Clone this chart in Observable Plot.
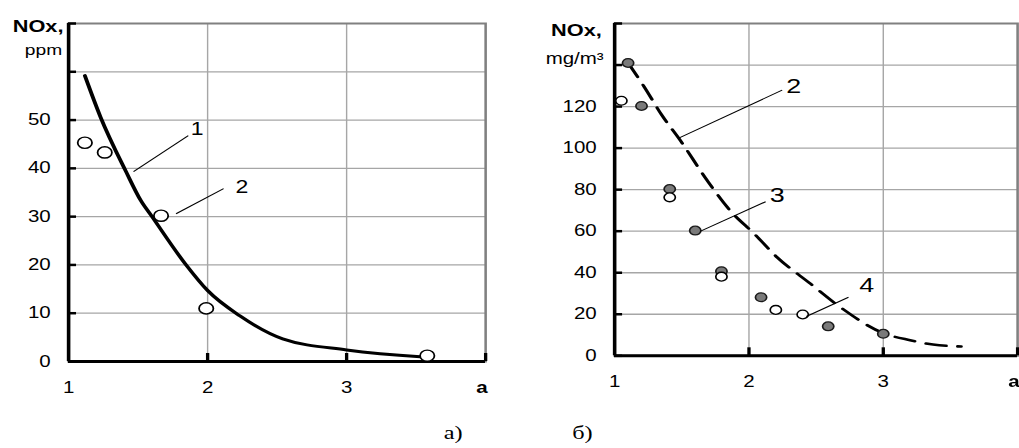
<!DOCTYPE html>
<html><head><meta charset="utf-8">
<script src="https://cdn.jsdelivr.net/npm/d3@7"></script>
<script src="https://cdn.jsdelivr.net/npm/@observablehq/plot@0.6"></script>
<style>
html,body{margin:0;padding:0;background:#fff;overflow:hidden;}
#wrap{position:absolute;left:0;top:0;width:796px;height:448px;transform:scaleX(1.28);transform-origin:0 0;}
#left{position:absolute;left:0;top:0;}
#right{position:absolute;left:390px;top:0;}
.cap{position:absolute;font-family:"Liberation Serif","Times New Roman",serif;font-size:19px;color:#000;transform:translate(-50%,-50%);white-space:nowrap;}
</style></head><body>
<div id="wrap"><div id="left"></div><div id="right"></div>
<div class="cap" id="capA" style="left:354px;top:433px"></div>
<div class="cap" id="capB" style="left:455px;top:433px"></div></div>
<script>
// ---------- Panel a) data ----------
const aCurveX = [1.117, 1.23, 1.41, 1.52, 1.60, 1.84, 2.0, 2.23, 2.54, 3.0, 3.53, 3.59];
const aCurveY = [59.2, 50.6, 39.5, 33.3, 30.0, 20.2, 14.7, 9.5, 4.7, 2.4, 1.0, 0.9];
const aPointX = [1.117, 1.26, 1.665, 1.99, 3.58];
const aPointY = [45.3, 43.3, 30.2, 11.0, 1.2];
const aNoteLabels = ["1", "2"];
const aNoteFromX = [1.467, 1.773];
const aNoteFromY = [39.3, 30.6];
const aNoteToX = [1.861, 2.115];
const aNoteToY = [46.8, 35.8];
const aNoteTextX = [1.924, 2.247];
const aNoteTextY = [48.0, 36.1];
const aYTicks = [0, 10, 20, 30, 40, 50, 60, 70];
const aYLabels = [0, 10, 20, 30, 40, 50];
const aGridY = [10, 20, 30, 40, 50, 60];
const aYTitle = ["NOx,", "ppm"];

// ---------- Panel б) data ----------
const bCurveX = [1.1, 1.22, 1.35, 1.49, 1.69, 1.86, 2.04, 2.21, 2.46, 2.68, 3.0, 3.2, 3.37, 3.58];
const bCurveY = [141, 129.5, 116, 103.6, 84.3, 69.9, 58.7, 47.4, 34.6, 23.4, 10.9, 7.5, 5.4, 4.5];
const bFilledX = [1.10, 1.20, 1.41, 1.60, 1.795, 2.09, 2.59, 3.0];
const bFilledY = [141, 120.3, 80.3, 60.3, 40.7, 28.2, 14.2, 10.6];
const bOpenX = [1.05, 1.41, 1.795, 2.20, 2.40];
const bOpenY = [122.8, 76.3, 38.1, 22.1, 19.9];
const bNoteLabels = ["2", "3", "4"];
const bNoteFromX = [1.481, 1.636, 2.427];
const bNoteFromY = [104.9, 59.9, 18.9];
const bNoteToX = [2.247, 2.124, 2.741];
const bNoteToY = [127.9, 74.2, 28.2];
const bNoteTextX = [2.333, 2.21, 2.877];
const bNoteTextY = [130.0, 77.4, 33.8];
const bYTicks = [0, 20, 40, 60, 80, 100, 120, 140, 160];
const bYLabels = [0, 20, 40, 60, 80, 100, 120];
const bGridY = [20, 40, 60, 80, 100, 120, 140];
const bYTitle = ["NOx,", "mg/m³"];

// ---------- shared axis data ----------
const xTicks = [2, 3, 4];
const xGrid = [2, 3];
const xLabels = [1, 2, 3];
const xEndLabel = ["a"];
const xEndValue = [4];
const captions = ["а)", "б)"];

const FONT = '"Liberation Sans", Arial, Helvetica, sans-serif';
const zip2 = (xs, ys) => xs.map((x, i) => ({x, y: ys[i]}));
const notes = (lab, fx, fy, tx, ty, lx, ly) => lab.map((t, i) => ({t, x1: fx[i], y1: fy[i], x2: tx[i], y2: ty[i], lx: lx[i], ly: ly[i]}));

function panel(o) {
  const fw = o.width - o.ml - o.mr;
  const fh = o.height - o.mt - o.mb;
  return Plot.plot({
    width: o.width, height: o.height,
    marginLeft: o.ml, marginRight: o.mr, marginTop: o.mt, marginBottom: o.mb,
    x: {domain: [1, 4], axis: null},
    y: {domain: o.ydomain, axis: null},
    style: {fontFamily: FONT, fontSize: "16px", background: "white", overflow: "visible", color: "black"},
    marks: [
      Plot.gridX(xGrid, {stroke: "#a6a6a6", strokeOpacity: 1, strokeWidth: 1.1}),
      Plot.gridY(o.gridY, {stroke: "#a6a6a6", strokeOpacity: 1, strokeWidth: 1.3}),
      Plot.frame({stroke: "#808080", strokeWidth: 2}),
      Plot.ruleY(o.yTicks, {insetRight: fw - 6.3, stroke: "black", strokeWidth: 2.5}),
      Plot.ruleX(xTicks, {insetTop: fh - 8, stroke: "black", strokeWidth: 2.6}),
      Plot.ruleX([1], {stroke: "black", strokeWidth: 2.8}),
      Plot.ruleY([0], {stroke: "black", strokeWidth: 3}),
      ...o.marks,
      Plot.link(o.notes, {x1: "x1", y1: "y1", x2: "x2", y2: "y2", stroke: "black", strokeWidth: 1}),
      Plot.text(o.notes, {x: "lx", y: "ly", text: "t", fontSize: o.noteSize, fill: "black"}),
      Plot.text(o.yLabels, {y: d => d, frameAnchor: "left", dx: -14, textAnchor: "end", fill: "black", fontSize: 16}),
      Plot.text(xLabels, {x: d => d, frameAnchor: "bottom", dy: 31, text: d => String(d), fill: "black", fontSize: 16}),
      Plot.text(xEndLabel, {x: (d, i) => xEndValue[i], frameAnchor: "bottom", dy: 31, textAnchor: "end", dx: 1.5, fontWeight: "bold", fill: "black", fontSize: 16}),
      Plot.text([o.title[0]], {frameAnchor: "top-left", dx: o.t1dx, dy: o.t1dy, textAnchor: "end", fontWeight: "bold", fontSize: 17, fill: "black"}),
      Plot.text([o.title[1]], {frameAnchor: "top-left", dx: o.t2dx, dy: o.t2dy, textAnchor: "end", fontSize: o.t2size, fill: "black"})
    ]
  });
}

const left = panel({
  width: 390, height: 448, ml: 53.1, mr: 11.1, mt: 23, mb: 87,
  ydomain: [0, 70], gridY: aGridY, yTicks: aYTicks, yLabels: aYLabels,
  title: aYTitle, t1dx: -4, t1dy: -4, t2dx: -5, t2dy: 21, t2size: 15,
  noteSize: 18,
  notes: notes(aNoteLabels, aNoteFromX, aNoteFromY, aNoteToX, aNoteToY, aNoteTextX, aNoteTextY),
  marks: [
    Plot.line(zip2(aCurveX, aCurveY), {x: "x", y: "y", curve: "monotone-x", stroke: "black", strokeWidth: 3}),
    Plot.dot(zip2(aPointX, aPointY), {x: "x", y: "y", r: 5.6, fill: "white", stroke: "black", strokeWidth: 1.4})
  ]
});

const right = panel({
  width: 406, height: 448, ml: 89.7, mr: 1.5, mt: 23, mb: 92.7,
  ydomain: [0, 160], gridY: bGridY, yTicks: bYTicks, yLabels: bYLabels,
  title: bYTitle, t1dx: -10, t1dy: 0, t2dx: -8.6, t2dy: 29, t2size: 16,
  noteSize: 21,
  notes: notes(bNoteLabels, bNoteFromX, bNoteFromY, bNoteToX, bNoteToY, bNoteTextX, bNoteTextY),
  marks: [
    Plot.line(zip2(bCurveX, bCurveY), {x: "x", y: "y", curve: "monotone-x", stroke: "black", strokeWidth: 2.6, strokeDasharray: "16,9"}),
    Plot.dot(zip2(bFilledX, bFilledY), {x: "x", y: "y", r: 4.4, fill: "#7a7a7a", stroke: "#1a1a1a", strokeWidth: 1.3}),
    Plot.dot(zip2(bOpenX, bOpenY), {x: "x", y: "y", r: 4.4, fill: "white", stroke: "black", strokeWidth: 1.3})
  ]
});

document.getElementById("left").appendChild(left);
document.getElementById("right").appendChild(right);
document.getElementById("capA").textContent = captions[0];
document.getElementById("capB").textContent = captions[1];
</script>
</body></html>
